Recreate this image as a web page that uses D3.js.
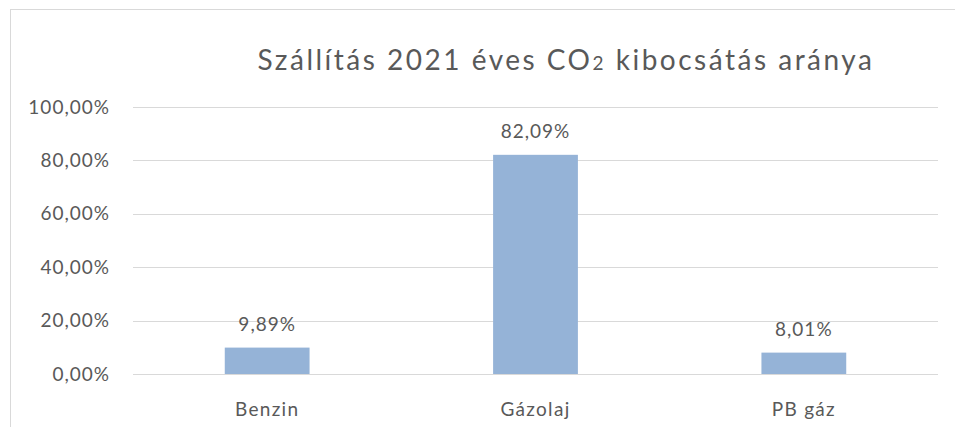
<!DOCTYPE html>
<html>
<head>
<meta charset="utf-8">
<script src="https://cdn.jsdelivr.net/npm/d3@7"></script>
<style>
  body { margin: 0; background: #fff; }
  svg text { font-family: Lato, "Open Sans", sans-serif; fill: #595959; }
</style>
</head>
<body>
<div id="chart"></div>
<script>
// data
const categories = ["Benzin", "Gázolaj", "PB gáz"];
const shares = [0.0989, 0.8209, 0.0801];
const shareLabels = ["9,89%", "82,09%", "8,01%"];
const yTicks = [0, 0.2, 0.4, 0.6, 0.8, 1.0];
const yTickLabels = ["0,00%", "20,00%", "40,00%", "60,00%", "80,00%", "100,00%"];

const width = 955, height = 427;
const plot = { left: 133, right: 938, top: 107, bottom: 374 };

const svg = d3.select("#chart").append("svg")
    .attr("width", width)
    .attr("height", height);

// chart frame (runs off the right and bottom edge)
svg.append("rect")
    .attr("x", 10.5).attr("y", 9.5)
    .attr("width", 960).attr("height", 440)
    .attr("fill", "none")
    .attr("stroke", "#d9d9d9");

const x = d3.scaleBand()
    .domain(categories)
    .range([plot.left, plot.right])
    .paddingInner(0.684)
    .paddingOuter(0.342);

const y = d3.scaleLinear()
    .domain([0, 1])
    .range([plot.bottom, plot.top]);

// gridlines
svg.append("g")
    .selectAll("line")
    .data(yTicks)
    .enter()
    .append("line")
    .attr("x1", plot.left).attr("x2", plot.right)
    .attr("y1", d => Math.round(y(d)) + 0.5)
    .attr("y2", d => Math.round(y(d)) + 0.5)
    .attr("stroke", "#d9d9d9")
    .attr("stroke-width", 1);

// y tick labels
svg.append("g")
    .selectAll("text")
    .data(yTicks)
    .enter()
    .append("text")
    .attr("x", 110)
    .attr("y", d => y(d))
    .attr("dy", "0.35em")
    .attr("text-anchor", "end")
    .style("font-size", "19px")
    .style("letter-spacing", "1px")
    .text((d, i) => yTickLabels[i]);

// bars
svg.append("g")
    .selectAll("rect")
    .data(shares)
    .enter()
    .append("rect")
    .attr("x", (d, i) => x(categories[i]))
    .attr("width", x.bandwidth())
    .attr("y", d => y(d))
    .attr("height", d => y(0) - y(d))
    .attr("fill", "#95b3d7");

// value labels
svg.append("g")
    .selectAll("text")
    .data(shares)
    .enter()
    .append("text")
    .attr("x", (d, i) => x(categories[i]) + x.bandwidth() / 2)
    .attr("y", d => y(d) - 17)
    .attr("text-anchor", "middle")
    .style("font-size", "19px")
    .style("letter-spacing", "1px")
    .text((d, i) => shareLabels[i]);

// category labels
svg.append("g")
    .selectAll("text")
    .data(categories)
    .enter()
    .append("text")
    .attr("x", d => x(d) + x.bandwidth() / 2)
    .attr("y", 416)
    .attr("text-anchor", "middle")
    .style("font-size", "19px")
    .style("letter-spacing", "1.3px")
    .text(d => d);

// title with subscript 2
const title = svg.append("text")
    .attr("x", 566)
    .attr("y", 70)
    .attr("text-anchor", "middle")
    .style("font-size", "28px")
    .style("letter-spacing", "2.5px");
title.append("tspan").text("Szállítás 2021 éves CO");
title.append("tspan").style("font-size", "19px").text("2");
title.append("tspan").text(" kibocsátás aránya");
</script>
</body>
</html>
